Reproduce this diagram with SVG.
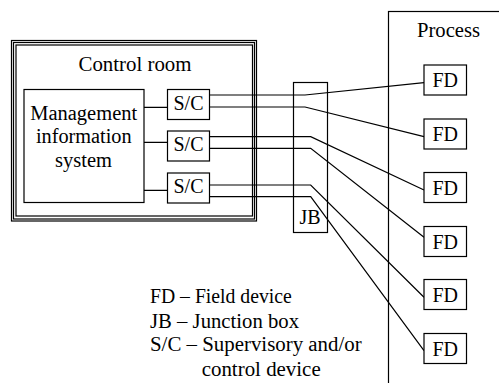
<svg xmlns="http://www.w3.org/2000/svg" width="499" height="383" viewBox="0 0 499 383">
<style>
.b{fill:#fff;stroke:#000;stroke-width:1.2}
.f{fill:none;stroke:#000;stroke-width:1.2}
text{font-family:"Liberation Serif","Times New Roman",serif;font-size:20px;fill:#000}
.c{text-anchor:middle}
</style>
<rect width="499" height="383" fill="#fff"/>
<g id="process">
<rect class="f" x="388.5" y="11.5" width="130" height="390"/>
<text class="c" x="448.5" y="37" textLength="63" lengthAdjust="spacingAndGlyphs">Process</text>
</g>
<g id="control-room">
<rect class="f" x="11.5" y="40.5" width="245" height="180.5"/>
<rect class="f" x="13.5" y="42.5" width="241" height="176.5"/>
<rect class="f" x="16" y="45" width="236.5" height="171"/>
<text class="c" x="135" y="71" textLength="113" lengthAdjust="spacingAndGlyphs">Control room</text>
</g>
<g id="mis">
<rect class="b" x="24" y="89.5" width="120" height="113"/>
<text class="c" x="83.7" y="120" textLength="107" lengthAdjust="spacingAndGlyphs">Management</text>
<text class="c" x="83.8" y="143" textLength="95.7" lengthAdjust="spacingAndGlyphs">information</text>
<text class="c" x="83.5" y="166.5" textLength="57" lengthAdjust="spacingAndGlyphs">system</text>
</g>
<g id="jb">
<rect class="b" x="293.5" y="82.5" width="34" height="150"/>
<text class="c" x="310" y="223.5">JB</text>
</g>
<g id="connectors">
<path class="f" d="M144 107.3H167.5M144 142.3H167.5M144 190.3H167.5"/>
<path class="f" d="M209.5 95H305L424 82.7"/>
<path class="f" d="M209.5 107H305L424 136.7"/>
<path class="f" d="M209.5 136.7H310.7L424 190"/>
<path class="f" d="M209.5 148.3H310.7L424 237.3"/>
<path class="f" d="M209.5 185H310.7L424 297.3"/>
<path class="f" d="M209.5 196.7H310.7L424 350.7"/>
</g>
<g id="sc1"><rect class="b" x="167.5" y="89.5" width="42" height="30"/><text class="c" x="188.5" y="109.5">S/C</text></g>
<g id="sc2"><rect class="b" x="167.5" y="131" width="42" height="30"/><text class="c" x="188.5" y="151">S/C</text></g>
<g id="sc3"><rect class="b" x="167.5" y="173" width="42" height="30"/><text class="c" x="188.5" y="193">S/C</text></g>
<g id="fd1"><rect class="b" x="424" y="65" width="42.5" height="30"/><text class="c" x="445.2" y="87">FD</text></g>
<g id="fd2"><rect class="b" x="424" y="119" width="42.5" height="30"/><text class="c" x="445.2" y="141">FD</text></g>
<g id="fd3"><rect class="b" x="424" y="172.5" width="42.5" height="30"/><text class="c" x="445.2" y="194.5">FD</text></g>
<g id="fd4"><rect class="b" x="424" y="226.5" width="42.5" height="30"/><text class="c" x="445.2" y="248.5">FD</text></g>
<g id="fd5"><rect class="b" x="424" y="279.5" width="42.5" height="30"/><text class="c" x="445.2" y="301.5">FD</text></g>
<g id="fd6"><rect class="b" x="424" y="333.5" width="42.5" height="30"/><text class="c" x="445.2" y="355.5">FD</text></g>
<g id="legend">
<text x="150" y="303.3" textLength="141.7" lengthAdjust="spacingAndGlyphs">FD – Field device</text>
<text x="150" y="328.3" textLength="149" lengthAdjust="spacingAndGlyphs">JB – Junction box</text>
<text x="150" y="350.5" textLength="211.7" lengthAdjust="spacingAndGlyphs">S/C – Supervisory and/or</text>
<text x="201.7" y="375.7" textLength="119" lengthAdjust="spacingAndGlyphs">control device</text>
</g>
</svg>
